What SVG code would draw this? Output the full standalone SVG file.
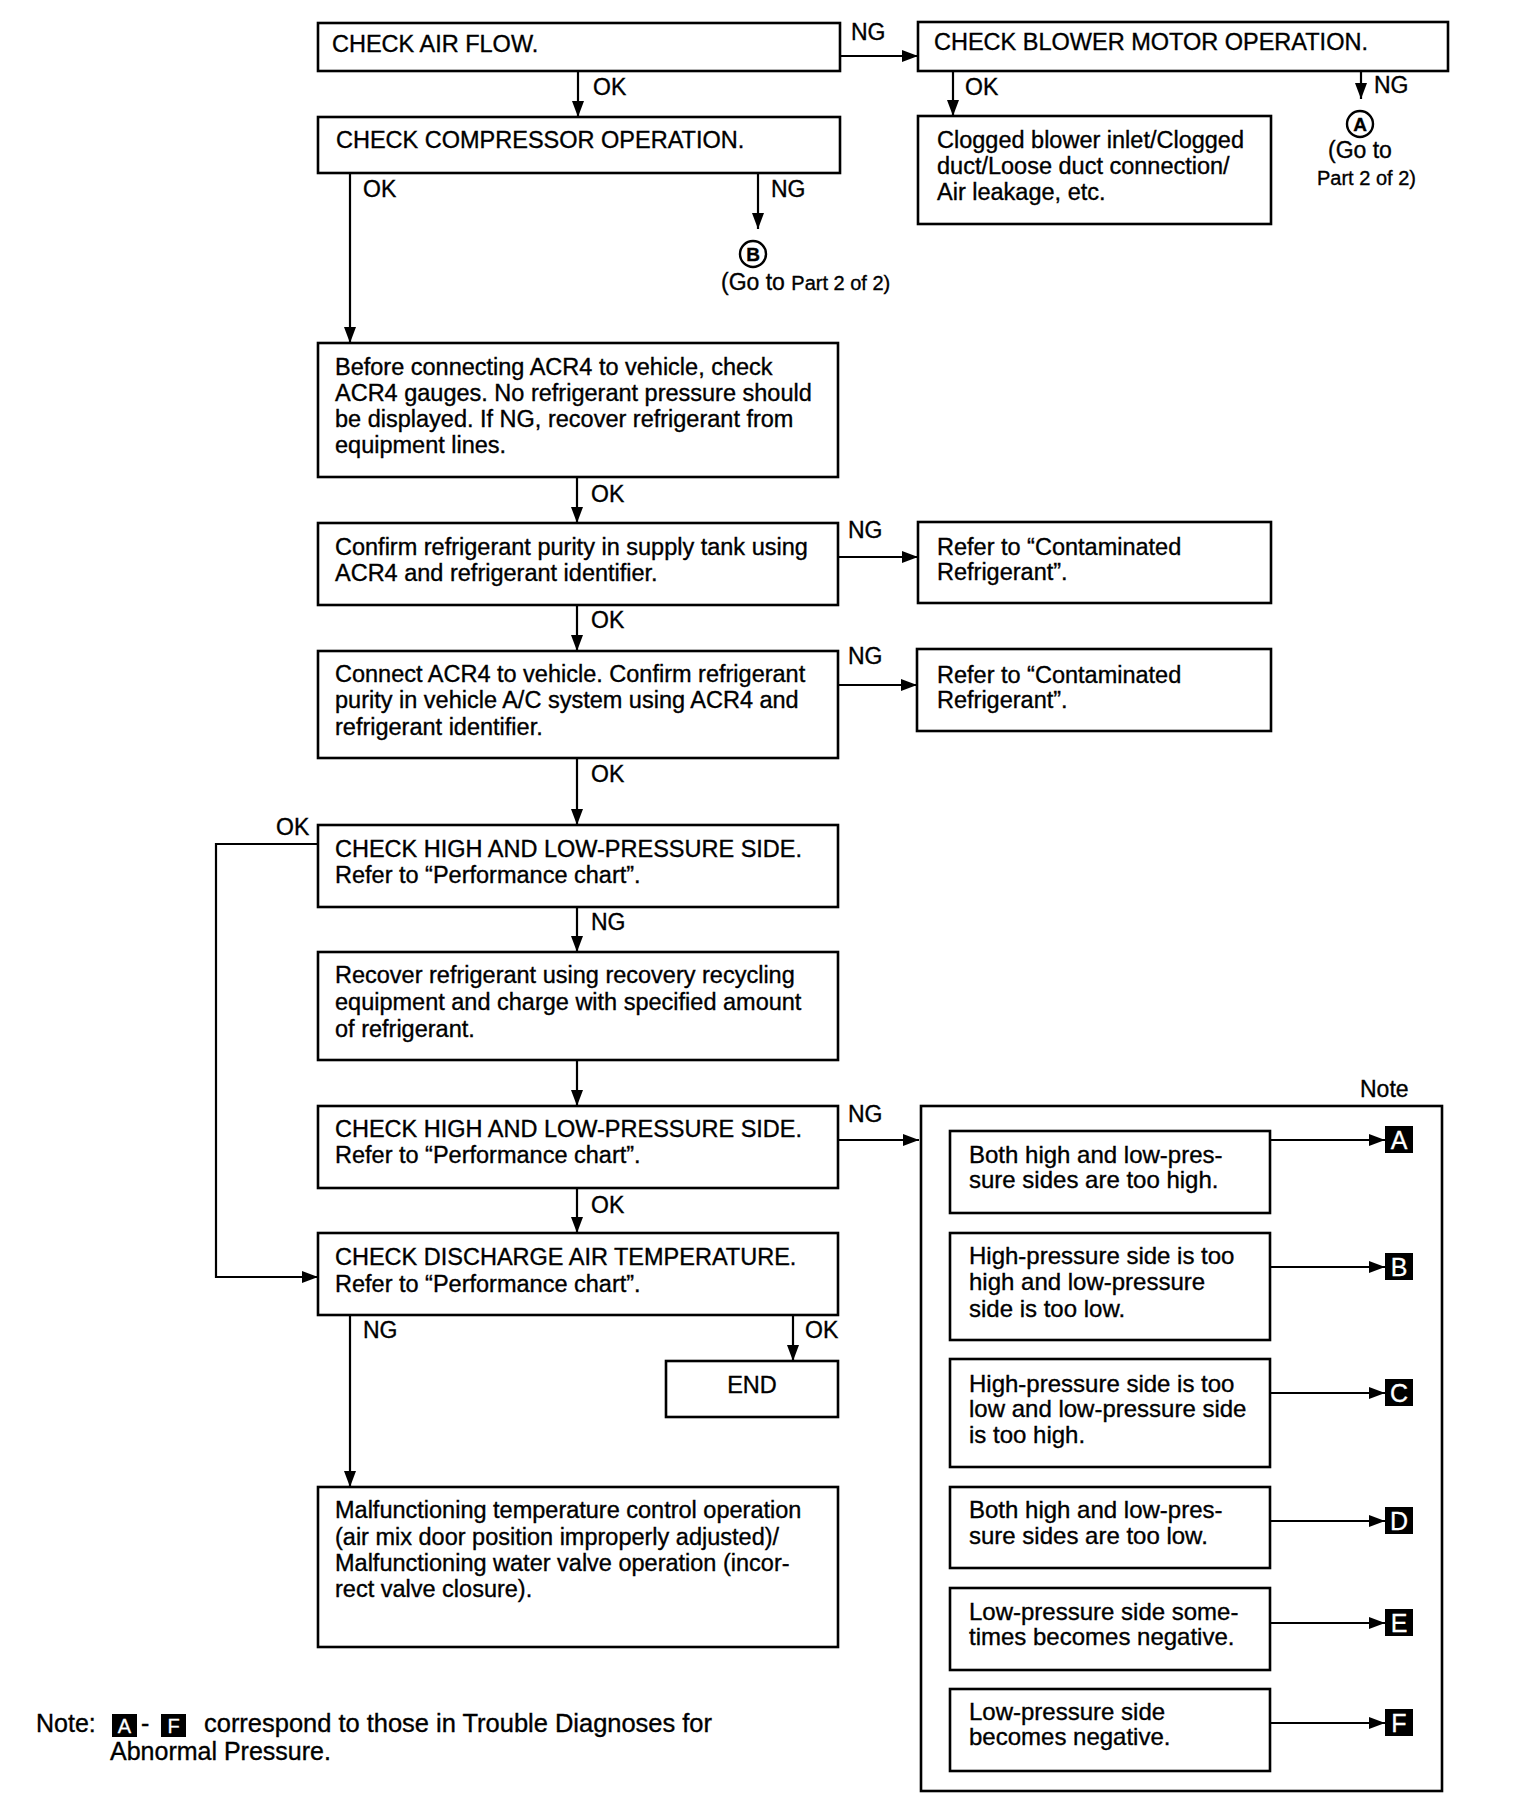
<svg xmlns="http://www.w3.org/2000/svg" width="1536" height="1808" viewBox="0 0 1536 1808">
<style>
  .box{fill:#fff;stroke:#000;stroke-width:2.6}
  .panel{fill:none;stroke:#000;stroke-width:2.6}
  text{stroke:#000;stroke-width:0.35}
  .t{font-family:"Liberation Sans",Arial,sans-serif;font-size:23.5px;fill:#000}
  .p{font-family:"Liberation Sans",Arial,sans-serif;font-size:24px;fill:#000}
  .lbl{font-family:"Liberation Sans",Arial,sans-serif;font-size:23px;fill:#000}
  .sm{font-family:"Liberation Sans",Arial,sans-serif;font-size:20px;fill:#000}
  .n{font-family:"Liberation Sans",Arial,sans-serif;font-size:25px;fill:#000}
  .ln{fill:none;stroke:#000;stroke-width:2.2}
  .badge{fill:#000}
  .bl{font-family:"Liberation Sans",Arial,sans-serif;font-size:25px;fill:#fff;stroke:#fff;stroke-width:0.3;text-anchor:middle}
  .bls{font-family:"Liberation Sans",Arial,sans-serif;font-size:20px;fill:#fff;stroke:#fff;stroke-width:0.3;text-anchor:middle}
  .circ{fill:#fff;stroke:#000;stroke-width:2.4}
  .ct{font-family:"Liberation Sans",Arial,sans-serif;font-size:19px;font-weight:bold;fill:#000;text-anchor:middle}
</style>
<defs>
  <marker id="arr" markerUnits="userSpaceOnUse" markerWidth="16" markerHeight="12" refX="16" refY="6" orient="auto">
    <path d="M0,0 L16,6 L0,12 Z" fill="#000"/>
  </marker>
</defs>
<rect width="1536" height="1808" fill="#fff"/>

<g id="connectors">
  <line class="ln" x1="840" y1="56" x2="918" y2="56" marker-end="url(#arr)"/>
  <text class="lbl" x="851" y="40">NG</text>
  <line class="ln" x1="578" y1="71" x2="578" y2="117" marker-end="url(#arr)"/>
  <text class="lbl" x="593" y="95">OK</text>
  <line class="ln" x1="350" y1="173" x2="350" y2="343" marker-end="url(#arr)"/>
  <text class="lbl" x="363" y="197">OK</text>
  <line class="ln" x1="758" y1="173" x2="758" y2="229" marker-end="url(#arr)"/>
  <text class="lbl" x="771" y="197">NG</text>
  <line class="ln" x1="953" y1="71" x2="953" y2="116" marker-end="url(#arr)"/>
  <text class="lbl" x="965" y="95">OK</text>
  <line class="ln" x1="1361" y1="71" x2="1361" y2="99" marker-end="url(#arr)"/>
  <text class="lbl" x="1374" y="93">NG</text>
  <line class="ln" x1="577" y1="477" x2="577" y2="523" marker-end="url(#arr)"/>
  <text class="lbl" x="591" y="502">OK</text>
  <line class="ln" x1="838" y1="557" x2="918" y2="557" marker-end="url(#arr)"/>
  <text class="lbl" x="848" y="538">NG</text>
  <line class="ln" x1="577" y1="605" x2="577" y2="651" marker-end="url(#arr)"/>
  <text class="lbl" x="591" y="628">OK</text>
  <line class="ln" x1="838" y1="685" x2="917" y2="685" marker-end="url(#arr)"/>
  <text class="lbl" x="848" y="664">NG</text>
  <line class="ln" x1="577" y1="758" x2="577" y2="825" marker-end="url(#arr)"/>
  <text class="lbl" x="591" y="782">OK</text>
  <polyline class="ln" points="318,844 216,844 216,1277 318,1277" marker-end="url(#arr)"/>
  <text class="lbl" x="276" y="835">OK</text>
  <line class="ln" x1="577" y1="907" x2="577" y2="952" marker-end="url(#arr)"/>
  <text class="lbl" x="591" y="930">NG</text>
  <line class="ln" x1="577" y1="1060" x2="577" y2="1106" marker-end="url(#arr)"/>
  <line class="ln" x1="838" y1="1140" x2="919" y2="1140" marker-end="url(#arr)"/>
  <text class="lbl" x="848" y="1122">NG</text>
  <line class="ln" x1="577" y1="1188" x2="577" y2="1233" marker-end="url(#arr)"/>
  <text class="lbl" x="591" y="1213">OK</text>
  <line class="ln" x1="350" y1="1315" x2="350" y2="1487" marker-end="url(#arr)"/>
  <text class="lbl" x="363" y="1338">NG</text>
  <line class="ln" x1="793" y1="1315" x2="793" y2="1361" marker-end="url(#arr)"/>
  <text class="lbl" x="805" y="1338">OK</text>
  <line class="ln" x1="1270" y1="1140" x2="1385" y2="1140" marker-end="url(#arr)"/>
  <line class="ln" x1="1270" y1="1267" x2="1385" y2="1267" marker-end="url(#arr)"/>
  <line class="ln" x1="1270" y1="1393" x2="1385" y2="1393" marker-end="url(#arr)"/>
  <line class="ln" x1="1270" y1="1521" x2="1385" y2="1521" marker-end="url(#arr)"/>
  <line class="ln" x1="1270" y1="1623" x2="1385" y2="1623" marker-end="url(#arr)"/>
  <line class="ln" x1="1270" y1="1723" x2="1385" y2="1723" marker-end="url(#arr)"/>
</g>

<g id="n-airflow">
  <rect class="box" x="318" y="23" width="522" height="48"/>
  <text class="t" x="332" y="52">CHECK AIR FLOW.</text>
</g>
<g id="n-blower">
  <rect class="box" x="918" y="22" width="530" height="49"/>
  <text class="t" x="934" y="50">CHECK BLOWER MOTOR OPERATION.</text>
</g>
<g id="n-compressor">
  <rect class="box" x="318" y="117" width="522" height="56"/>
  <text class="t" x="336" y="148">CHECK COMPRESSOR OPERATION.</text>
</g>
<g id="n-clogged">
  <rect class="box" x="918" y="116" width="353" height="108"/>
  <text class="t" x="937" y="148">Clogged blower inlet/Clogged</text>
  <text class="t" x="937" y="174">duct/Loose duct connection/</text>
  <text class="t" x="937" y="200">Air leakage, etc.</text>
</g>
<g id="n-goto-a">
  <circle class="circ" cx="1360" cy="124" r="13"/>
  <text class="ct" x="1360" y="131">A</text>
  <text class="lbl" x="1328" y="158">(Go to</text>
  <text class="sm" x="1317" y="185">Part 2 of 2)</text>
</g>
<g id="n-goto-b">
  <circle class="circ" cx="753" cy="254" r="13"/>
  <text class="ct" x="753" y="261">B</text>
  <text x="721" y="290"><tspan class="lbl">(Go to </tspan><tspan class="sm">Part 2 of 2)</tspan></text>
</g>
<g id="n-gauges">
  <rect class="box" x="318" y="343" width="520" height="134"/>
  <text class="t" x="335" y="375">Before connecting ACR4 to vehicle, check</text>
  <text class="t" x="335" y="401">ACR4 gauges. No refrigerant pressure should</text>
  <text class="t" x="335" y="427">be displayed. If NG, recover refrigerant from</text>
  <text class="t" x="335" y="453">equipment lines.</text>
</g>
<g id="n-supply">
  <rect class="box" x="318" y="523" width="520" height="82"/>
  <text class="t" x="335" y="555">Confirm refrigerant purity in supply tank using</text>
  <text class="t" x="335" y="581">ACR4 and refrigerant identifier.</text>
</g>
<g id="n-refer1">
  <rect class="box" x="918" y="522" width="353" height="81"/>
  <text class="t" x="937" y="555">Refer to “Contaminated</text>
  <text class="t" x="937" y="580">Refrigerant”.</text>
</g>
<g id="n-vehicle">
  <rect class="box" x="318" y="651" width="520" height="107"/>
  <text class="t" x="335" y="682">Connect ACR4 to vehicle. Confirm refrigerant</text>
  <text class="t" x="335" y="708">purity in vehicle A/C system using ACR4 and</text>
  <text class="t" x="335" y="735">refrigerant identifier.</text>
</g>
<g id="n-refer2">
  <rect class="box" x="917" y="649" width="354" height="82"/>
  <text class="t" x="937" y="683">Refer to “Contaminated</text>
  <text class="t" x="937" y="708">Refrigerant”.</text>
</g>
<g id="n-check1">
  <rect class="box" x="318" y="825" width="520" height="82"/>
  <text class="t" x="335" y="857">CHECK HIGH AND LOW-PRESSURE SIDE.</text>
  <text class="t" x="335" y="883">Refer to “Performance chart”.</text>
</g>
<g id="n-recover">
  <rect class="box" x="318" y="952" width="520" height="108"/>
  <text class="t" x="335" y="983">Recover refrigerant using recovery recycling</text>
  <text class="t" x="335" y="1010">equipment and charge with specified amount</text>
  <text class="t" x="335" y="1037">of refrigerant.</text>
</g>
<g id="n-check2">
  <rect class="box" x="318" y="1106" width="520" height="82"/>
  <text class="t" x="335" y="1137">CHECK HIGH AND LOW-PRESSURE SIDE.</text>
  <text class="t" x="335" y="1163">Refer to “Performance chart”.</text>
</g>
<g id="n-discharge">
  <rect class="box" x="318" y="1233" width="520" height="82"/>
  <text class="t" x="335" y="1265">CHECK DISCHARGE AIR TEMPERATURE.</text>
  <text class="t" x="335" y="1292">Refer to “Performance chart”.</text>
</g>
<g id="n-end">
  <rect class="box" x="666" y="1361" width="172" height="56"/>
  <text class="t" x="752" y="1393" text-anchor="middle">END</text>
</g>
<g id="n-malfunction">
  <rect class="box" x="318" y="1487" width="520" height="160"/>
  <text class="t" x="335" y="1518">Malfunctioning temperature control operation</text>
  <text class="t" x="335" y="1545">(air mix door position improperly adjusted)/</text>
  <text class="t" x="335" y="1571">Malfunctioning water valve operation (incor-</text>
  <text class="t" x="335" y="1597">rect valve closure).</text>
</g>

<g id="n-note-panel">
  <rect class="panel" x="921" y="1106" width="521" height="685"/>
  <text class="lbl" x="1360" y="1097">Note</text>
</g>
<g id="n-note-a">
  <rect class="box" x="950" y="1131" width="320" height="82"/>
  <text class="p" x="969" y="1163">Both high and low-pres-</text>
  <text class="p" x="969" y="1188">sure sides are too high.</text>
  <rect class="badge" x="1385" y="1126" width="28" height="27"/>
  <text class="bl" x="1399" y="1149">A</text>
</g>
<g id="n-note-b">
  <rect class="box" x="950" y="1233" width="320" height="107"/>
  <text class="p" x="969" y="1264">High-pressure side is too</text>
  <text class="p" x="969" y="1290">high and low-pressure</text>
  <text class="p" x="969" y="1317">side is too low.</text>
  <rect class="badge" x="1385" y="1253" width="28" height="27"/>
  <text class="bl" x="1399" y="1276">B</text>
</g>
<g id="n-note-c">
  <rect class="box" x="950" y="1359" width="320" height="108"/>
  <text class="p" x="969" y="1392">High-pressure side is too</text>
  <text class="p" x="969" y="1417">low and low-pressure side</text>
  <text class="p" x="969" y="1443">is too high.</text>
  <rect class="badge" x="1385" y="1379" width="28" height="27"/>
  <text class="bl" x="1399" y="1402">C</text>
</g>
<g id="n-note-d">
  <rect class="box" x="950" y="1487" width="320" height="81"/>
  <text class="p" x="969" y="1518">Both high and low-pres-</text>
  <text class="p" x="969" y="1544">sure sides are too low.</text>
  <rect class="badge" x="1385" y="1507" width="28" height="27"/>
  <text class="bl" x="1399" y="1530">D</text>
</g>
<g id="n-note-e">
  <rect class="box" x="950" y="1588" width="320" height="82"/>
  <text class="p" x="969" y="1620">Low-pressure side some-</text>
  <text class="p" x="969" y="1645">times becomes negative.</text>
  <rect class="badge" x="1385" y="1609" width="28" height="27"/>
  <text class="bl" x="1399" y="1632">E</text>
</g>
<g id="n-note-f">
  <rect class="box" x="950" y="1689" width="320" height="82"/>
  <text class="p" x="969" y="1720">Low-pressure side</text>
  <text class="p" x="969" y="1745">becomes negative.</text>
  <rect class="badge" x="1385" y="1709" width="28" height="27"/>
  <text class="bl" x="1399" y="1732">F</text>
</g>

<g id="n-footnote">
  <text class="n" x="36" y="1732">Note:</text>
  <rect class="badge" x="112" y="1714" width="25" height="23"/>
  <text class="bls" x="124.5" y="1733">A</text>
  <text class="n" x="141" y="1732">-</text>
  <rect class="badge" x="161" y="1714" width="25" height="23"/>
  <text class="bls" x="173.5" y="1733">F</text>
  <text class="n" x="204" y="1732" textLength="508" lengthAdjust="spacingAndGlyphs">correspond to those in Trouble Diagnoses for</text>
  <text class="n" x="110" y="1760">Abnormal Pressure.</text>
</g>
</svg>
